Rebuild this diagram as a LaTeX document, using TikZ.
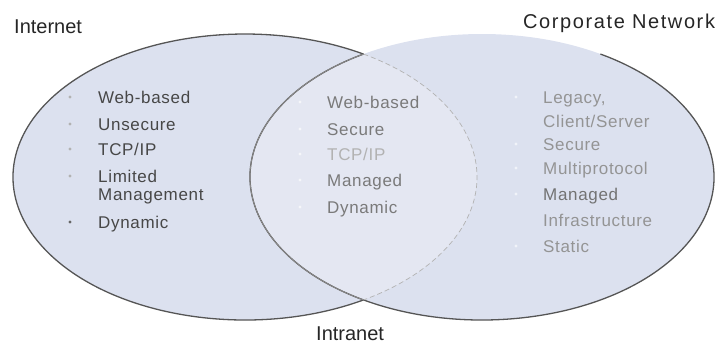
\documentclass[tikz,border=0pt]{standalone}
\usepackage{fontspec}
\setmainfont{Liberation Sans}
\newfontfamily\listfont{Liberation Sans}[LetterSpace=4]
\newfontfamily\titlefont{Liberation Sans}[LetterSpace=8]
\usetikzlibrary{positioning}

\definecolor{vennfill}{HTML}{DCE1EF}
\definecolor{vennlight}{HTML}{E4E7F2}
\definecolor{vennline}{HTML}{555555}

\begin{document}
\begin{tikzpicture}[x=1pt, y=-1pt,
    title/.style={font=\fontsize{20}{24}\selectfont, text=black!85, anchor=base west, inner sep=0pt},
    itemtext/.style={font=\listfont\fontsize{17}{20}\selectfont, anchor=base west, inner sep=0pt},
    outside/.style={itemtext, text=black!72},
    middle/.style={itemtext, text=black!52},
    corp/.style={itemtext, text=black!42},
    dot/.style={fill=black!30}]
  \useasboundingbox (0,0) rectangle (722,343);
  % ellipses
  \fill[vennfill] (245,177) ellipse [x radius=232, y radius=143];
  \fill[vennfill] (482,177) ellipse [x radius=232, y radius=143];
  \begin{scope}
    \clip (245,177) ellipse [x radius=232, y radius=143];
    \fill[vennlight] (482,177) ellipse [x radius=232, y radius=143];
  \end{scope}
  % outlines: outer arcs dark, inner arcs faint
  \draw[vennline, line width=1.3pt] (245,177) ++(59.3:232 and 143)
    arc[start angle=59.3, end angle=300.7, x radius=232, y radius=143];
  \draw[vennline, line width=1.3pt] (482,177) ++(-59.3:232 and 143)
    arc[start angle=-59.3, end angle=239.3, x radius=232, y radius=143];
  \draw[black!45, line width=0.8pt] (482,177) ++(120.7:232 and 143)
    arc[start angle=120.7, end angle=239.3, x radius=232, y radius=143];
  \draw[black!30, line width=0.7pt, dash pattern=on 5pt off 3pt] (245,177) ++(-59.3:232 and 143)
    arc[start angle=-59.3, end angle=59.3, x radius=232, y radius=143];
  % titles
  \node[title] (internet) at (14,33) {Internet};
  \node[title, font=\titlefont\fontsize{20}{24}\selectfont] (corpnet) at (523,28) {Corporate Network};
  \node[title] (intranet) at (316,340) {Intranet};
  % internet items
  \node[outside] (i1) at (98,103) {Web-based};
  \node[outside] (i2) at (98,130) {Unsecure};
  \node[outside] (i3) at (98,155) {TCP/IP};
  \node[outside] (i4) at (98,182) {Limited};
  \node[outside] (i4b) at (98,200) {Management};
  \node[outside] (i5) at (98,228) {Dynamic};
  \foreach \y in {97,124,149,176} \fill[dot] (70,\y) circle (1.6pt);
  \fill[black!60] (70,222) circle (1.6pt);
  % intranet items
  \node[middle] (m1) at (327,108) {Web-based};
  \node[middle] (m2) at (327,135) {Secure};
  \node[middle, text=black!30] (m3) at (327,160) {TCP/IP};
  \node[middle] (m4) at (327,186) {Managed};
  \node[middle] (m5) at (327,213) {Dynamic};
  \foreach \y in {102,129,154,180,207} \fill[white!70!vennfill] (300,\y) circle (1.6pt);
  % corporate items
  \node[corp] (c1) at (543,103) {Legacy,};
  \node[corp] (c1b) at (543,127) {Client/Server};
  \node[corp] (c2) at (543,150) {Secure};
  \node[corp] (c3) at (543,174) {Multiprotocol};
  \node[corp, text=black!55] (c4) at (543,200) {Managed};
  \node[corp] (c4b) at (543,226) {Infrastructure};
  \node[corp] (c5) at (543,252) {Static};
  \foreach \y in {97,144,168,194,246} \fill[white!60!vennfill] (516,\y) circle (1.6pt);
\end{tikzpicture}
\end{document}
